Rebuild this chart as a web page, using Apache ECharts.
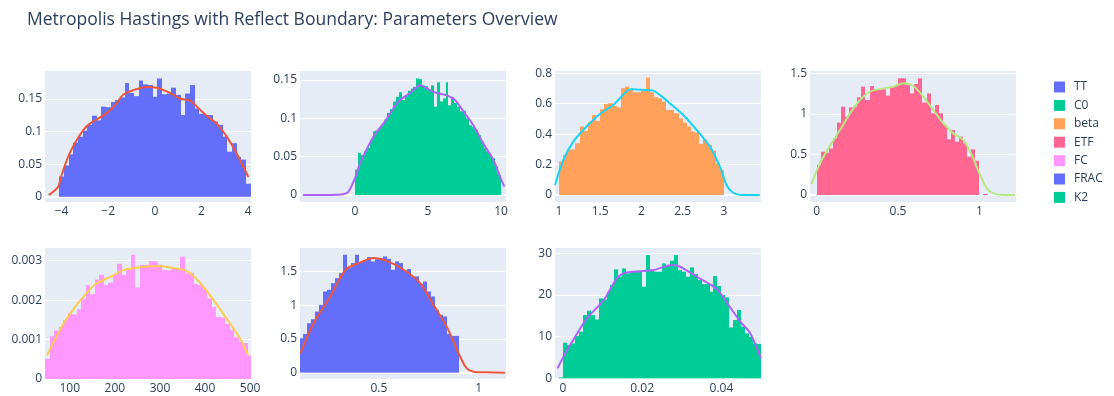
<!DOCTYPE html>
<html><head><meta charset="utf-8">
<script src="https://cdn.jsdelivr.net/npm/echarts@6/dist/echarts.min.js"></script>
<style>html,body{margin:0;padding:0;background:#fff}#c{width:1114px;height:396px}</style>
</head><body><div id="c"></div>
<script>
// ---- data ----
const params = ['TT','C0','beta','ETF','FC','FRAC','K2'];
// histogram bins: first edge and bin width
const binStart = [-4.1, 0, 1, 0, 45, 0.1, -0.001];
const binWidth = [0.2, 0.2, 0.05, 0.025, 10, 0.02, 0.001];

const histTT = [0.031,0.048,0.065,0.083,0.092,0.101,0.110,0.124,0.117,0.138,0.137,0.145,0.148,0.152,0.174,0.159,0.154,0.178,0.172,0.171,0.153,0.181,0.157,0.158,0.167,0.156,0.125,0.158,0.171,0.135,0.127,0.125,0.125,0.115,0.110,0.092,0.069,0.082,0.061,0.057,0.020];
const histC0 = [0.033,0.055,0.052,0.057,0.062,0.072,0.083,0.084,0.087,0.091,0.098,0.107,0.112,0.122,0.128,0.134,0.124,0.129,0.136,0.139,0.141,0.152,0.151,0.143,0.142,0.138,0.143,0.115,0.147,0.122,0.126,0.147,0.117,0.128,0.120,0.115,0.109,0.110,0.100,0.091,0.089,0.085,0.078,0.070,0.061,0.057,0.052,0.048,0.037,0.026];
const histBeta = [0.219,0.263,0.300,0.300,0.340,0.450,0.421,0.478,0.526,0.487,0.564,0.599,0.603,0.586,0.575,0.702,0.713,0.691,0.675,0.675,0.686,0.772,0.675,0.643,0.636,0.614,0.559,0.559,0.537,0.504,0.476,0.450,0.417,0.410,0.336,0.366,0.329,0.292,0.208,0.164];
const histETF = [0.370,0.534,0.522,0.575,0.699,0.892,1.089,0.966,1.081,1.089,1.204,1.336,1.171,1.344,1.303,1.295,1.303,1.225,1.327,1.344,1.439,1.439,1.356,1.253,1.369,1.439,1.139,1.253,1.007,1.110,1.007,0.863,0.686,0.801,0.658,0.719,0.637,0.473,0.563,0.423,0,0.012];
const histFC = [0.00051,0.00108,0.00123,0.00132,0.00149,0.00167,0.00164,0.00177,0.00202,0.00238,0.00215,0.00252,0.00264,0.00238,0.00244,0.00264,0.00292,0.00264,0.00276,0.00315,0.00232,0.00289,0.00289,0.00299,0.00298,0.00289,0.00276,0.00275,0.00281,0.00281,0.00310,0.00268,0.00269,0.00241,0.00238,0.00227,0.00204,0.00183,0.00157,0.00156,0.00140,0.00125,0.00106,0.00094,0.00091,0.00060];
const histFRAC = [0.51,0.574,0.733,0.792,0.906,1.005,1.203,1.228,1.327,1.401,1.475,1.748,1.55,1.624,1.748,1.634,1.658,1.713,1.649,1.683,1.698,1.723,1.688,1.525,1.649,1.624,1.51,1.535,1.426,1.426,1.317,1.351,1.203,1.129,0.931,0.856,0.832,0.574,0.545,0.545];
const histK2 = [0.24,8.56,8.0,8.4,10.16,11.2,15.2,16.24,15.2,14.16,19.2,18.96,20.8,22.4,26.16,24.4,26.4,25.2,25.6,25.84,25.84,22.0,29.6,25.84,25.6,25.6,27.6,27.2,28.24,29.6,26.0,25.6,24.4,26.64,25.04,23.6,22.64,22.64,20.8,24.56,22.16,20.0,19.44,12.24,14.0,16.4,12.4,10.8,10.0,8.4,8.24];

const kdeTTx = [-4.545,-4.15,-4.0,-3.72,-3.43,-3.07,-2.79,-2.36,-2.07,-1.71,-1.36,-0.93,-0.35,0.08,0.65,1.08,1.51,1.94,2.29,2.65,3.08,3.51,3.79,4.01];
const kdeTTy = [0.0026,0.015,0.033,0.061,0.082,0.102,0.112,0.121,0.128,0.140,0.156,0.163,0.168,0.167,0.159,0.150,0.147,0.133,0.122,0.112,0.092,0.066,0.046,0.030];
const kdeC0x = [-3.58,-2.0,-1.2,-0.80,-0.46,0,0.34,1.26,2.05,2.97,3.77,4.45,4.91,5.59,6.28,6.85,7.42,8.1,8.79,9.47,9.93,10.23];
const kdeC0y = [0,0,0.0003,0.001,0.004,0.022,0.041,0.076,0.096,0.122,0.133,0.143,0.139,0.133,0.130,0.124,0.109,0.091,0.067,0.046,0.024,0.011];
const kdeBetax = [0.952,1.053,1.174,1.335,1.497,1.659,1.739,1.820,1.881,1.982,2.143,2.224,2.345,2.507,2.669,2.830,2.952,3.032,3.113,3.214,3.436];
const kdeBetay = [0.066,0.230,0.351,0.450,0.533,0.592,0.636,0.680,0.697,0.691,0.686,0.658,0.603,0.526,0.428,0.318,0.186,0.066,0.015,0.0,0.0];
const kdeETFx = [-0.031,0.020,0.072,0.143,0.205,0.266,0.328,0.410,0.471,0.533,0.594,0.656,0.717,0.779,0.840,0.902,0.953,1.004,1.045,1.086,1.148,1.219];
const kdeETFy = [0.136,0.390,0.575,0.801,1.007,1.171,1.274,1.315,1.336,1.377,1.344,1.212,1.048,0.884,0.760,0.678,0.493,0.247,0.082,0.021,0,0];
const kdeFCx = [49.2,86,112,134,156,190,219,241,278,300,330,356,367,389,419,448,478,496];
const kdeFCy = [0.000595,0.0014,0.00183,0.00213,0.0024,0.00259,0.00276,0.00281,0.00286,0.00286,0.00281,0.00276,0.00268,0.00244,0.002,0.00153,0.00102,0.0006];
const kdeFRACx = [0.107,0.173,0.257,0.332,0.399,0.474,0.54,0.624,0.707,0.774,0.840,0.907,0.94,0.974,1.04,1.132];
const kdeFRACy = [0.287,0.733,1.129,1.525,1.624,1.698,1.658,1.525,1.327,1.005,0.683,0.238,0.064,0.015,0.005,0.0];
const kdeK2x = [-0.00136,0.00058,0.0031,0.00606,0.0103,0.0136,0.0153,0.0178,0.0229,0.0275,0.0296,0.0338,0.0389,0.0418,0.0448,0.0473,0.050];
const kdeK2y = [2.4,6.0,10.0,14.4,18.8,24.0,25.2,25.6,26.0,27.2,26.8,24.4,21.4,17.6,13.6,10.8,4.8];

const xTicks = [[-4,-2,0,2,4],[0,5,10],[1,1.5,2,2.5,3],[0,0.5,1],[100,200,300,400,500],[0.5,1],[0,0.02,0.04]];
const yTicks = [[0,0.05,0.1,0.15],[0,0.05,0.1,0.15],[0,0.2,0.4,0.6,0.8],[0,0.5,1,1.5],[0,0.001,0.002,0.003],[0,0.5,1,1.5],[0,10,20,30]];

// ---- layout / style ----
const xMin = [-4.71,-3.77,0.952,-0.041,45,0.105,-0.002];
const xMax = [4.12,10.34,3.45,1.225,502,1.137,0.05];
const yMin = [-0.008,-0.0091,-0.046,-0.086,0,-0.094,-0.15];
const yMax = [0.1925,0.1617,0.815,1.529,0.00332,1.848,31.3];
const gLeft = [45,300,555,810,45,300,555];
const gTop = [71,71,71,71,248,248,248];
const barColors = ['#636EFA','#00CC96','#FFA15A','#FF6692','#FF97FF','#636EFA','#00CC96'];
const lineColors = ['#EF553B','#AB63FA','#19D3F3','#B6E880','#FECB52','#EF553B','#AB63FA'];
const FONT = '"Open Sans", verdana, arial, sans-serif';
const TXT = '#2a3f5f';

const hists = [histTT,histC0,histBeta,histETF,histFC,histFRAC,histK2];
const kdeX = [kdeTTx,kdeC0x,kdeBetax,kdeETFx,kdeFCx,kdeFRACx,kdeK2x];
const kdeY = [kdeTTy,kdeC0y,kdeBetay,kdeETFy,kdeFCy,kdeFRACy,kdeK2y];

const fmt = v => String(v).replace('-', '\u2212');

const grids = [], xAxes = [], yAxes = [], series = [];
for (let i = 0; i < 7; i++) {
  grids.push({left: gLeft[i], top: gTop[i], width: 206, height: 131, show: true,
    backgroundColor: '#E5ECF6', borderWidth: 0, containLabel: false});
  xAxes.push({type: 'value', gridIndex: i, min: xMin[i], max: xMax[i],
    axisLine: {show: false}, axisTick: {show: false, customValues: xTicks[i]},
    splitLine: {show: false},
    axisLabel: {customValues: xTicks[i], formatter: fmt, color: TXT, fontSize: 12, fontFamily: FONT, margin: 4}});
  yAxes.push({type: 'value', gridIndex: i, min: yMin[i], max: yMax[i],
    axisLine: {show: false}, axisTick: {show: false, customValues: yTicks[i]},
    splitLine: {show: true, lineStyle: {color: '#ffffff', width: 1}},
    axisLabel: {customValues: yTicks[i], formatter: fmt, color: TXT, fontSize: 12, fontFamily: FONT, margin: 3}});
  const h = hists[i];
  const bars = h.map((v, k) => [binStart[i] + k * binWidth[i], binStart[i] + (k + 1) * binWidth[i], v]);
  const col = barColors[i];
  series.push({
    name: params[i], type: 'custom', xAxisIndex: i, yAxisIndex: i, z: 2, clip: true,
    itemStyle: {color: col}, encode: {x: [0, 1], y: 2}, data: bars,
    renderItem: function (p, api) {
      const a = api.coord([api.value(0), 0]);
      const b = api.coord([api.value(1), api.value(2)]);
      const x0 = Math.round(a[0]), x1 = Math.round(b[0]);
      return {type: 'rect', shape: {x: x0, y: b[1], width: Math.max(0, x1 - x0), height: a[1] - b[1]},
        style: {fill: col, stroke: null, lineWidth: 0}};
    }
  });
  series.push({
    name: params[i] + ' kde', type: 'line', xAxisIndex: i, yAxisIndex: i, z: 3,
    data: kdeX[i].map((x, k) => [x, kdeY[i][k]]), showSymbol: false, symbol: 'none',
    smooth: 0.25, lineStyle: {color: lineColors[i], width: 2}, itemStyle: {color: lineColors[i]},
    silent: true
  });
  series.push({
    name: 'zero' + i, type: 'line', xAxisIndex: i, yAxisIndex: i, z: 1, data: [], silent: true,
    markLine: {z: 1, silent: true, symbol: 'none', label: {show: false},
      lineStyle: {color: '#ffffff', width: 2, type: 'solid'}, data: [{yAxis: 0}]}
  });
}

const option = {
  animation: false,
  backgroundColor: '#ffffff',
  textStyle: {fontFamily: FONT},
  title: {text: 'Metropolis Hastings with Reflect Boundary: Parameters Overview', left: 22, top: 6,
    textStyle: {fontSize: 17.5, fontWeight: 'normal', color: TXT, fontFamily: FONT}},
  legend: {data: params, orient: 'vertical', left: 1049, top: 76, itemWidth: 11, itemHeight: 11,
    itemGap: 6.4, icon: 'rect', selectedMode: false,
    textStyle: {color: TXT, fontSize: 12, fontFamily: FONT, padding: [0, 0, 0, 4]}},
  grid: grids, xAxis: xAxes, yAxis: yAxes, series: series
};
const chart = echarts.init(document.getElementById('c'));
chart.setOption(option);
</script></body></html>
